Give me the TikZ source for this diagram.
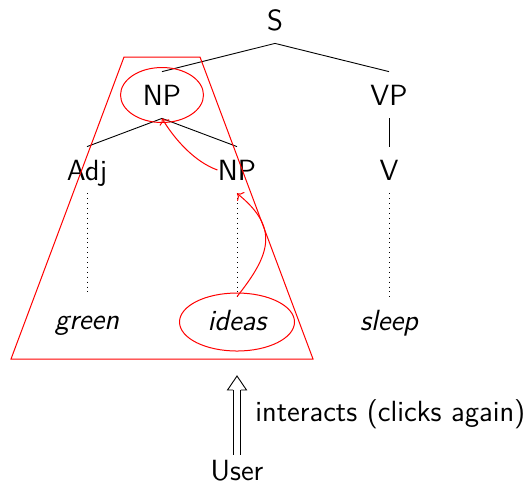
\documentclass[tikz,border=0pt]{standalone}
\usetikzlibrary{arrows.meta}
\begin{document}
\begin{tikzpicture}[x=0.5pt,y=-0.5pt,
  every node/.style={font=\fontsize{14.6}{17.5}\selectfont\sffamily},
  cat/.style={inner sep=0pt, text height=10.1pt, text depth=0pt, minimum height=23pt},
  word/.style={cat, font=\fontsize{14.6}{17.5}\selectfont\sffamily\itshape},
  branch/.style={black, line width=0.45pt},
  lexlink/.style={black, line width=0.45pt, dotted},
  trace/.style={red, line width=0.5pt},
  shaft/.style={double, double distance=3.4pt, line width=0.45pt},
  hollowhead/.style={line width=0.45pt, line join=miter}]
\useasboundingbox (0,0) rectangle (528,484);

% categories
\node[cat] (s)   at (275,20)  {S};
\node[cat] (np1) at (162,95)  {NP};
\node[cat] (vp)  at (389,95)  {VP};
\node[cat] (adj) at (87,170)  {Adj};
\node[cat] (np2) at (237,170) {NP};
\node[cat] (v)   at (389,170) {V};

% words
\node[word] (green) at (87,319)  {green};
\node[word] (ideas) at (237,320) {ideas};
\node[word] (sleep) at (389,320) {sleep};

% branches
\draw[branch] (s.south) -- (np1.north);
\draw[branch] (s.south) -- (vp.north);
\draw[branch] (np1.south) -- (adj.north);
\draw[branch] (np1.south) -- (np2.north);
\draw[branch] (vp.south) -- (v.north);

% lexical links
\draw[lexlink] (adj.south) -- (green.north);
\draw[lexlink] (np2.south) -- (ideas.north);
\draw[lexlink] (v.south) -- (sleep.north);

% selected subtree
\draw[trace] (124,57) -- (200,57) -- (313,359) -- (11,359) -- cycle;
\draw[trace] (np1.center) ellipse [x radius=20.75pt, y radius=13.75pt];
\draw[trace] ([yshift=-1pt]ideas.center) ellipse [x radius=28.75pt, y radius=14.5pt];

% climbing path
\draw[trace,->] (ideas.north) .. controls (270,255) and (280,228) .. (np2.south);
\draw[trace,->] (np2.west) .. controls (195,162) and (175,140) .. (np1.south);

% user interaction: a hollow double arrow
\node[inner sep=0pt, text height=10.1pt, text depth=0pt, minimum height=15pt] (user) at (237,470) {User};
\coordinate (press) at (237,376);
\coordinate (neck) at (237,390);
\draw[shaft] (user.north) -- (neck)
  node[pos=0.62, anchor=west, inner sep=0pt, xshift=9pt] (act) {interacts (clicks again)};
\draw[hollowhead] ([xshift=-1.9pt]neck) -- ([xshift=-4.75pt]neck) -- (press)
  -- ([xshift=4.75pt]neck) -- ([xshift=1.9pt]neck);
\end{tikzpicture}
\end{document}
